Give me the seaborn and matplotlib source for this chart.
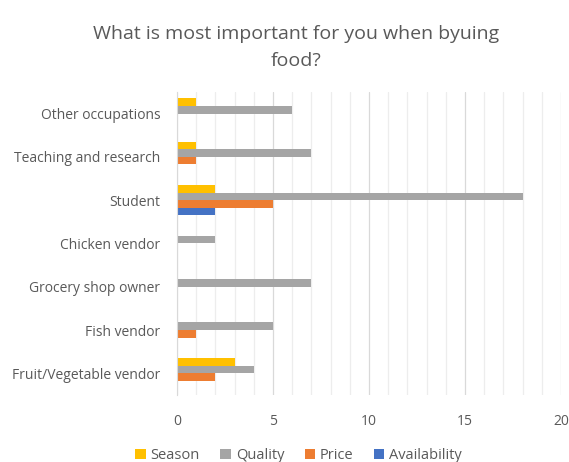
import pandas as pd
import numpy as np
import seaborn as sns
import matplotlib.pyplot as plt
from matplotlib.ticker import MultipleLocator

# Data
categories = ['Other occupations', 'Teaching and research', 'Student',
              'Chicken vendor', 'Grocery shop owner', 'Fish vendor',
              'Fruit/Vegetable vendor']
series = ['Season', 'Quality', 'Price', 'Availability']
season = [1, 1, 2, 0, 0, 0, 3]
quality = [6, 7, 18, 2, 7, 5, 4]
price = [0, 1, 5, 0, 0, 1, 2]
availability = [0, 0, 2, 0, 0, 0, 0]
colors = ['#FFC000', '#A5A5A5', '#ED7D31', '#4472C4']

values = {'Season': season, 'Quality': quality, 'Price': price,
          'Availability': availability}
rows = []
for s in series:
    for cat, v in zip(categories, values[s]):
        rows.append({'Occupation': cat, 'Answer': s, 'Count': v})
df = pd.DataFrame(rows)

sns.set_style('white')
plt.rcParams['font.family'] = ['Open Sans', 'DejaVu Sans']

fig = plt.figure(figsize=(5.69, 4.62), dpi=100)
ax = fig.add_axes([0.311, 0.145, 0.675, 0.656])

sns.barplot(data=df, y='Occupation', x='Count', hue='Answer',
            order=categories, hue_order=series, palette=colors,
            saturation=1, linewidth=0, orient='h', width=0.7, ax=ax,
            legend=True)

ax.set_xlim(0, 20)
ax.xaxis.set_major_locator(MultipleLocator(5))
ax.xaxis.set_minor_locator(MultipleLocator(1))
ax.grid(axis='x', which='major', color='#D9D9D9', linewidth=0.9)
ax.grid(axis='x', which='minor', color='#EDEDED', linewidth=0.9)
ax.set_axisbelow(True)
for side in ['top', 'right', 'bottom']:
    ax.spines[side].set_visible(False)
ax.spines['left'].set_color('#D9D9D9')
ax.tick_params(axis='both', which='both', length=0, colors='#595959',
               labelsize=10)
ax.tick_params(axis='x', pad=14)
ax.tick_params(axis='y', pad=12)
ax.set_xlabel('')
ax.set_ylabel('')

fig.suptitle('What is most important for you when byuing\nfood?',
             x=0.52, y=0.945, fontsize=14, color='#595959',
             linespacing=1.6)

handles, labels = ax.get_legend_handles_labels()
ax.legend_.remove()
fig.legend(handles, labels, loc='lower center', ncol=4, frameon=False,
           bbox_to_anchor=(0.525, -0.03), handlelength=0.7, handleheight=0.7,
           handletextpad=0.35, columnspacing=1.4, fontsize=10.5,
           labelcolor='#595959')

fig.savefig('out.png', dpi=100)
